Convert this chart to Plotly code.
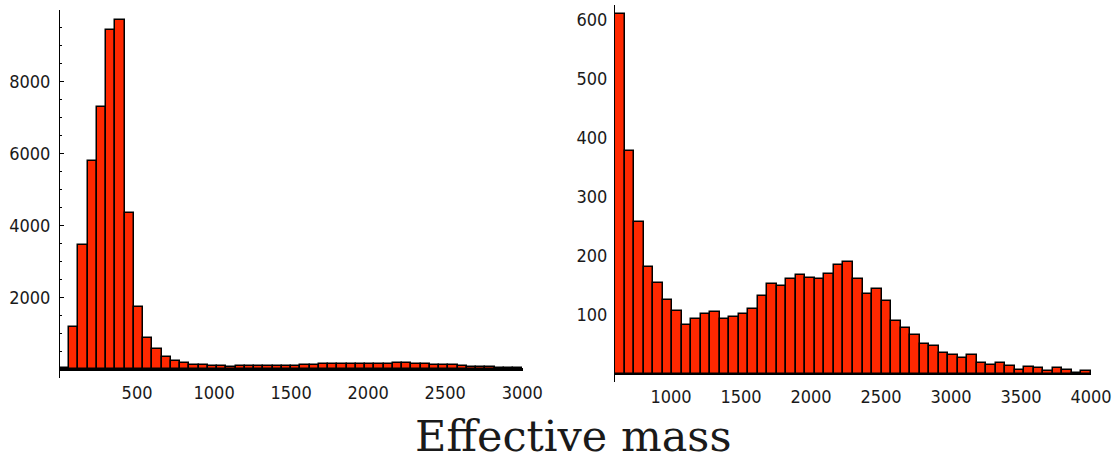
import plotly.graph_objects as go

# Histogram of effective mass: full range (left) and the high-mass part (right)
left_start = 0
left_width = 60
left_counts = [
    40, 1170, 3460, 5790, 7310, 9440, 9720, 4340, 1720, 870,
    550, 330, 231, 167, 125, 115, 95, 85, 70, 75,
    85, 80, 78, 85, 88, 95, 100, 118, 133, 130,
    143, 147, 146, 142, 143, 150, 162, 167, 150, 130,
    120, 125, 108, 80, 68, 57, 45, 42, 32, 28,
]

right_start = 600
right_width = 68
right_counts = [
    610, 378, 257, 181, 154, 125, 107, 83, 93, 101,
    104, 92, 97, 101, 110, 132, 152, 149, 161, 167,
    163, 161, 169, 185, 190, 161, 135, 143, 123, 90,
    77, 65, 50, 47, 35, 32, 26, 32, 19, 15,
    19, 13, 7, 12, 9, 4, 9, 7, 2, 5,
]

left_xticks = [500, 1000, 1500, 2000, 2500, 3000]
left_yticks = [2000, 4000, 6000, 8000]
right_xticks = [1000, 1500, 2000, 2500, 3000, 3500, 4000]
right_yticks = [100, 200, 300, 400, 500, 600]
title_text = "Effective mass"

BAR_FILL = "#ff2800"
TICK_FONT = dict(family="DejaVu Sans Condensed, Liberation Sans Narrow, DejaVu Sans",
                 size=18, color="#1a1a1a")


def centers(start, width, n):
    return [start + width * (i + 0.5) for i in range(n)]


fig = go.Figure()
fig.add_trace(go.Bar(
    x=centers(left_start, left_width, len(left_counts)), y=left_counts,
    width=left_width, marker=dict(color=BAR_FILL, line=dict(color="black", width=1.5)),
    xaxis="x", yaxis="y", showlegend=False,
))
fig.add_trace(go.Bar(
    x=centers(right_start, right_width, len(right_counts)), y=right_counts,
    width=right_width, marker=dict(color=BAR_FILL, line=dict(color="black", width=1.5)),
    xaxis="x2", yaxis="y2", showlegend=False,
))

W, H = 1116, 465


def fx(px):
    return px / W


def fy(px):
    return (H - px) / H


common_x = dict(showgrid=False, zeroline=False, showline=False, ticks="",
                tickfont=TICK_FONT, ticklabelstandoff=2, automargin=False)
common_y = dict(showgrid=False, zeroline=True, zerolinecolor="black",
                zerolinewidth=2.5, showline=True, linecolor="black", linewidth=1,
                tickfont=TICK_FONT, automargin=False)

fig.update_layout(
    width=W, height=H, autosize=False,
    margin=dict(l=0, r=0, t=0, b=0),
    paper_bgcolor="white", plot_bgcolor="white",
    bargap=0,
    xaxis=dict(domain=[fx(60), fx(523)], range=[0, 3005], anchor="y",
               tickvals=left_xticks, **common_x),
    yaxis=dict(domain=[fy(378), fy(10)], range=[-250, 10000], anchor="x",
               tickvals=left_yticks, ticks="inside", ticklen=4, tickcolor="black",
               ticklabelstandoff=5,
               minor=dict(dtick=500, tick0=0, ticks="inside", ticklen=2, tickcolor="black"),
               **common_y),
    xaxis2=dict(domain=[fx(615), fx(1091)], range=[600, 4000], anchor="y2",
                tickvals=right_xticks, **common_x),
    yaxis2=dict(domain=[fy(382), fy(5)], range=[-14, 625], anchor="x2",
                tickvals=right_yticks, ticks="", ticklabelstandoff=3,
                **common_y),
    annotations=[dict(
        text=title_text, x=fx(573), y=fy(436), xref="paper", yref="paper",
        xanchor="center", yanchor="middle", showarrow=False,
        font=dict(family="DejaVu Serif, Liberation Serif", size=43, color="#1a1a1a"),
    )],
)

fig.write_html("out.html", config={"responsive": False})
